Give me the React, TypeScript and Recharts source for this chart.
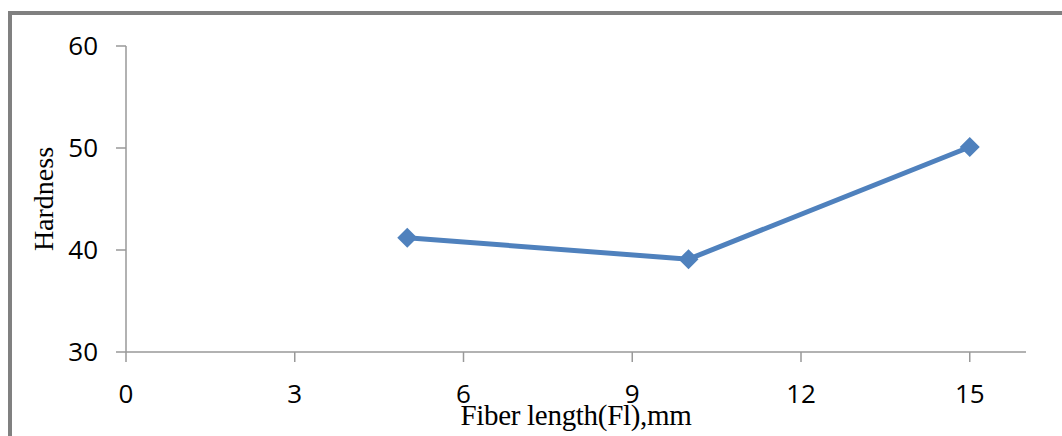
import React from 'react';
import { LineChart, Line, XAxis, YAxis, Label } from 'recharts';

const fiberLength = [5, 10, 15];
const hardness = [41.2, 39.1, 50.1];
const xTicks = [0, 3, 6, 9, 12, 15];
const yTicks = [30, 40, 50, 60];

const data = fiberLength.map((x, i) => ({ x, y: hardness[i] }));

const Diamond = (props: any) => {
  const { cx, cy } = props;
  if (cx == null || cy == null) return null;
  const r = 10;
  return (
    <polygon
      points={`${cx},${cy - r} ${cx + r},${cy} ${cx},${cy + r} ${cx - r},${cy}`}
      fill="#4F81BD"
      stroke="none"
    />
  );
};

const tickFont = { fontFamily: 'Open Sans', fontSize: 26, fill: '#000' };

export default function App() {
  return (
    <div style={{ position: 'absolute', left: 0, top: 0, width: 1062, height: 436, overflow: 'hidden', background: '#fff' }}>
      <div
        style={{
          position: 'absolute',
          left: 8,
          top: 11,
          width: 1200,
          height: 600,
          borderLeft: '4px solid #808080',
          borderTop: '4px solid #808080',
          boxSizing: 'border-box',
        }}
      />
      <div style={{ position: 'absolute', left: 0, top: 0 }}>
        <LineChart width={1062} height={436} data={data} margin={{ top: 46, right: 36, bottom: 54, left: 0 }}>
          <XAxis
            dataKey="x"
            type="number"
            domain={[0, 16]}
            ticks={xTicks}
            allowDataOverflow
            stroke="#999"
            strokeWidth={1.5}
            tickSize={10}
            tickMargin={23}
            tick={tickFont}
            height={30}
          >
            <Label
              content={(p: any) => {
                const vb = p.viewBox;
                return (
                  <text
                    x={vb.x + vb.width / 2}
                    y={425}
                    textAnchor="middle"
                    fontFamily="Liberation Serif"
                    fontSize={29}
                    letterSpacing={-0.3}
                    fill="#000"
                  >
                    Fiber length(Fl),mm
                  </text>
                );
              }}
            />
          </XAxis>
          <YAxis
            type="number"
            domain={[30, 60]}
            ticks={yTicks}
            stroke="#999"
            strokeWidth={1.5}
            tickSize={10}
            tickMargin={18}
            tick={tickFont}
            width={126}
          >
            <Label
              content={(p: any) => {
                const vb = p.viewBox;
                const cy = vb.y + vb.height / 2;
                return (
                  <text
                    x={53}
                    y={cy}
                    transform={`rotate(-90, 53, ${cy})`}
                    textAnchor="middle"
                    fontFamily="Liberation Serif"
                    fontSize={28}
                    fill="#000"
                  >
                    Hardness
                  </text>
                );
              }}
            />
          </YAxis>
          <Line
            type="linear"
            dataKey="y"
            stroke="#4F81BD"
            strokeWidth={5}
            dot={<Diamond />}
            activeDot={false}
            isAnimationActive={false}
          />
        </LineChart>
      </div>
    </div>
  );
}
